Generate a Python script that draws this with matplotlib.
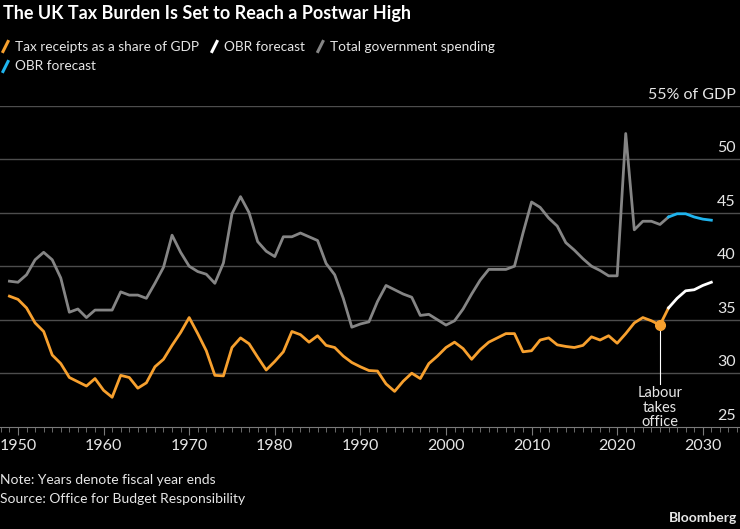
import matplotlib
matplotlib.use("Agg")
import matplotlib.pyplot as plt
from matplotlib.lines import Line2D

# data (share of GDP, %), fiscal years
years = list(range(1949, 2027))
tax = [37.2, 36.9, 36.1, 34.7, 33.9, 31.7, 30.9, 29.6, 29.2, 28.8,
       29.5, 28.4, 27.75, 29.8, 29.6, 28.6, 29.1, 30.6, 31.3, 32.6,
       33.8, 35.2, 33.7, 32.1, 29.8, 29.75, 32.4, 33.3, 32.75, 31.5,
       30.3, 31.1, 32.0, 33.9, 33.6, 32.9, 33.5, 32.6, 32.4, 31.6,
       31.0, 30.6, 30.25, 30.2, 29.0, 28.3, 29.25, 30.0, 29.5, 30.9,
       31.6, 32.4, 32.9, 32.3, 31.3, 32.2, 32.9, 33.3, 33.7, 33.7,
       32.0, 32.1, 33.1, 33.3, 32.65, 32.5, 32.4, 32.6, 33.4, 33.1,
       33.5, 32.8, 33.7, 34.7, 35.2, 34.9, 34.5, 36.1]
spending = [38.6, 38.5, 39.2, 40.6, 41.3, 40.6, 38.9, 35.7, 36.0, 35.2,
            35.9, 35.9, 35.9, 37.6, 37.3, 37.3, 37.0, 38.4, 39.9, 42.9,
            41.3, 40.0, 39.5, 39.25, 38.4, 40.3, 44.9, 46.5, 45.0, 42.3,
            41.4, 40.9, 42.75, 42.75, 43.1, 42.75, 42.4, 40.25, 39.2, 37.0,
            34.3, 34.6, 34.8, 36.7, 38.2, 37.8, 37.4, 37.1, 35.4, 35.5,
            35.0, 34.5, 34.9, 36.0, 37.4, 38.7, 39.7, 39.7, 39.7, 40.0,
            43.1, 46.0, 45.5, 44.5, 43.75, 42.2, 41.5, 40.7, 40.0, 39.6,
            39.1, 39.1, 52.4, 43.4, 44.2, 44.2, 43.9, 44.6]
fc_years = list(range(2026, 2032))
tax_fc = [36.1, 37.0, 37.7, 37.8, 38.2, 38.5]
spending_fc = [44.6, 44.9, 44.9, 44.6, 44.4, 44.3]
labour_year = 2025
labour_value = 34.5

yticks = [25, 30, 35, 40, 45, 50, 55]
xticks = [1950, 1960, 1970, 1980, 1990, 2000, 2010, 2020, 2030]

ORANGE = "#f7a02e"
GREY = "#858585"
BLUE = "#1fb4ee"
TXT = "#e6e6e6"

plt.rcParams["font.family"] = ["Lato", "DejaVu Sans"]

W, H = 740, 529
fig = plt.figure(figsize=(W / 100, H / 100), dpi=100, facecolor="black")


def fx(px):
    return px / W


def fy(py):
    return 1 - py / H


ax = fig.add_axes([0, fy(426.7), 1, fy(105.7) - fy(426.7)], facecolor="black")
ax.set_xlim(1947.9, 2034.35)
ax.set_ylim(25, 55)

for v in yticks:
    if v > yticks[0]:
        ax.axhline(v, color="#4d4d4d", lw=1, zorder=1)
    label = f"{v}% of GDP" if v == 55 else str(v)
    ax.annotate(label, (1, v), xycoords=("axes fraction", "data"),
                xytext=(-3, 3), textcoords="offset points",
                ha="right", va="bottom", color=TXT, fontsize=11.5)

ax.plot(years, spending, color=GREY, lw=2, zorder=3)
ax.plot(fc_years, spending_fc, color=BLUE, lw=2, zorder=3)
ax.plot(years, tax, color=ORANGE, lw=2, zorder=3)
ax.plot(fc_years, tax_fc, color="white", lw=2, zorder=3)

# Labour annotation
ax.plot([labour_year, labour_year], [labour_value, 29.0], color="white", lw=0.8, zorder=2)
ax.plot(labour_year, labour_value, "o", color=ORANGE, ms=7, zorder=4)
ax.text(labour_year, 28.8, "Labour\ntakes\noffice", ha="center", va="top",
        color=TXT, fontsize=10.5, linespacing=1.05)

for s in ["top", "right", "left"]:
    ax.spines[s].set_visible(False)
ax.spines["bottom"].set_color("#7a7a7a")
ax.set_yticks([])
ax.set_xticks(xticks)
ax.set_xticks(range(1948, 2035), minor=True)
ax.tick_params(axis="x", which="major", length=6, color="#7a7a7a", labelcolor=TXT,
               labelsize=11.5, pad=3)
ax.tick_params(axis="x", which="minor", length=3.5, color="#7a7a7a")

# title and legend
fig.text(fx(3), fy(13), "The UK Tax Burden Is Set to Reach a Postwar High",
         color="white", fontsize=13, fontweight="bold", va="center", ha="left")

renderer = fig.canvas.get_renderer()
legend_rows = [[(ORANGE, "Tax receipts as a share of GDP"),
                ("white", "OBR forecast"),
                (GREY, "Total government spending")],
               [(BLUE, "OBR forecast")]]
for ly, row in zip([46.5, 66.5], legend_rows):
    lx = 3
    for c, t in row:
        fig.add_artist(Line2D([fx(lx), fx(lx + 5)], [fy(ly + 5), fy(ly - 5)],
                              color=c, lw=2.2, transform=fig.transFigure))
        txt = fig.text(fx(lx + 12), fy(ly), t, color=TXT, fontsize=9.8,
                       va="center", ha="left")
        lx += 12 + txt.get_window_extent(renderer).width + 13

fig.text(fx(0), fy(480), "Note: Years denote fiscal year ends", color=TXT,
         fontsize=10, va="center", ha="left")
fig.text(fx(0), fy(499), "Source: Office for Budget Responsibility", color=TXT,
         fontsize=10, va="center", ha="left")
fig.text(fx(737), fy(518), "Bloomberg", color=TXT, fontsize=10,
         fontweight="bold", va="center", ha="right")

fig.savefig("out.png", dpi=100, facecolor="black")
